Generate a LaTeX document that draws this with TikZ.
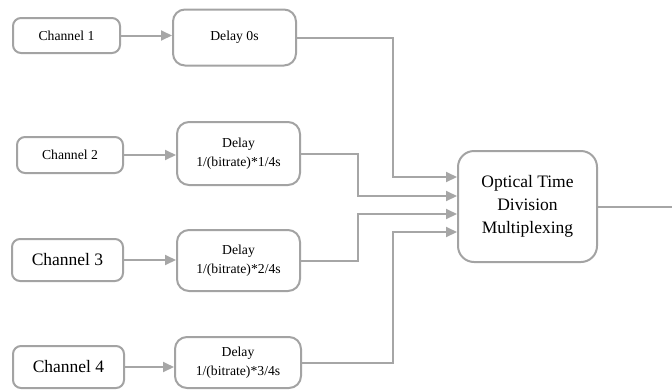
\documentclass[tikz,border=0pt]{standalone}
\usepackage{fontspec}
\setmainfont{Liberation Serif}
\usetikzlibrary{arrows.meta}
\definecolor{lncol}{HTML}{A6A6A6}
\definecolor{bxcol}{HTML}{A3A3A3}
\begin{document}
\begin{tikzpicture}[x=1pt,y=-1pt,
  box/.style={draw=bxcol,line width=2pt,rounded corners=8pt,align=center,inner sep=0pt},
  small/.style={font=\rmfamily\fontsize{13.7}{19}\selectfont},
  big/.style={font=\rmfamily\fontsize{17.5}{23}\selectfont},
  arr/.style={draw=lncol,line width=2pt,-{Triangle[length=11pt,width=10pt]}},
  ln/.style={draw=lncol,line width=2pt}]
\useasboundingbox (0,0) rectangle (672,389);
\node[box,small,minimum width=107pt,minimum height=35pt] (c1) at (66.5,35.5) {Channel 1};
\node[box,small,rounded corners=12pt,minimum width=123pt,minimum height=56pt] (d1) at (234.5,37.5) {Delay 0s};
\node[box,small,minimum width=106pt,minimum height=36pt] (c2) at (70,155) {Channel 2};
\node[box,small,rounded corners=12pt,minimum width=123pt,minimum height=63pt] (d2) at (238.5,153.5) {Delay\\1/(bitrate)*1/4s};
\node[box,big,minimum width=111pt,minimum height=42pt] (c3) at (67.5,260) {Channel 3};
\node[box,small,rounded corners=12pt,minimum width=123pt,minimum height=61pt] (d3) at (238.5,260.5) {Delay\\1/(bitrate)*2/4s};
\node[box,big,minimum width=111pt,minimum height=42pt] (c4) at (68.5,367) {Channel 4};
\node[box,small,rounded corners=12pt,minimum width=126pt,minimum height=51pt] (d4) at (238,362.5) {Delay\\1/(bitrate)*3/4s};
\node[box,big,rounded corners=16pt,minimum width=139pt,minimum height=111pt] (o) at (527.5,206.5) {Optical Time\\Division\\Multiplexing};
\coordinate (out) at (672,207);
\coordinate (j1) at (393,177);
\coordinate (j2) at (358,196);
\coordinate (j3) at (358,214);
\coordinate (j4) at (393,232);
\draw[arr] (c1.east) -- (c1.east -| d1.west);
\draw[arr] (c2.east) -- (c2.east -| d2.west);
\draw[arr] (c3.east) -- (c3.east -| d3.west);
\draw[arr] (c4.east) -- (c4.east -| d4.west);
\draw[arr] (d1.east) -| (j1) -- (j1 -| o.west);
\draw[arr] (d2.east) -| (j2) -- (j2 -| o.west);
\draw[arr] (d3.east) -| (j3) -- (j3 -| o.west);
\draw[arr] (d4.east) -| (j4) -- (j4 -| o.west);
\draw[ln] (o.east |- out) -- (out);
\end{tikzpicture}
\end{document}
